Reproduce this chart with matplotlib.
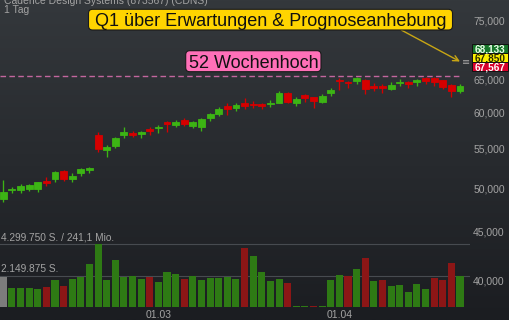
import numpy as np
import matplotlib
matplotlib.use("Agg")
import matplotlib.pyplot as plt
from matplotlib.patches import Rectangle, FancyBboxPatch
from matplotlib.ticker import FixedLocator, NullLocator

plt.rcParams['font.family'] = ['Liberation Sans', 'DejaVu Sans']

# Daily OHLC
opens = [48730, 49720, 49800, 49920, 49920, 50850, 51060, 52060, 51140, 51840,
         52180, 56820, 54800, 55340, 56820, 57140, 56920, 57610, 57750, 58590,
         58210, 58880, 58110, 57970, 59160, 59780, 60940, 60610, 61340, 61310,
         61240, 61240, 61430, 62840, 61340, 62580, 62240, 61580, 62890, 64940,
         64620, 64730, 64890, 64000, 63960, 63490, 64380, 64530, 64620, 65160,
         65250, 64840, 64110, 63190]
highs = [50980, 50120, 50490, 50520, 50770, 51350, 52100, 52260, 51810, 52510,
         52640, 57200, 55470, 56590, 57890, 57380, 57380, 57930, 58210, 58740,
         58920, 59160, 58780, 59160, 59880, 60750, 61430, 61390, 62090, 61680,
         61430, 61830, 63140, 63080, 62240, 62730, 62330, 62690, 63600, 65160,
         64730, 65410, 65000, 64380, 64220, 64530, 65050, 64780, 65050, 65310,
         65410, 64890, 64220, 64270]
lows = [48380, 49400, 49360, 49640, 49560, 50280, 50770, 50850, 50690, 51470,
        51810, 54500, 53920, 55110, 56370, 56590, 56370, 56820, 57140, 57240,
        57890, 58070, 57750, 57420, 58820, 59490, 59630, 60260, 60500, 60610,
        60460, 60840, 61340, 61340, 60940, 61580, 60700, 61430, 62480, 63340,
        63600, 64270, 62730, 63190, 62890, 63340, 64000, 63700, 64000, 64270,
        64000, 63490, 62240, 62840]
closes = [49480, 49920, 50280, 50360, 50690, 50610, 51970, 51140, 51430, 52390,
          52440, 54960, 55240, 56370, 57200, 56820, 57200, 57380, 57930, 58350,
          58680, 58390, 58590, 59020, 59730, 60460, 60550, 61130, 60940, 61090,
          60940, 61390, 62840, 61580, 61940, 62090, 61730, 62480, 63300, 64680,
          64460, 65160, 63490, 63700, 63650, 64110, 64530, 64320, 64890, 64730,
          64620, 63800, 63240, 64000]

# Daily volume (shares) and its colour class
volumes = [2060000, 1350000, 1350000, 1350000, 1280000, 1400000, 1850000, 1460000,
           1950000, 2080000, 2930000, 4299750, 1850000, 3250000, 2080000, 2130000,
           1950000, 2080000, 1720000, 2430000, 2240000, 1900000, 2150000, 1830000,
           1970000, 1990000, 2080000, 1950000, 4030000, 3530000, 2380000, 1810000,
           1920000, 1650000, 110000, 110000, 90000, 70000, 1880000, 2200000,
           2150000, 2610000, 3340000, 1810000, 1880000, 1440000, 1490000, 1030000,
           1600000, 1260000, 1990000, 1850000, 3020000, 2110000]
vol_trend = ['n', 'u', 'u', 'u', 'u', 'd', 'u', 'd', 'u', 'u',
             'u', 'u', 'u', 'u', 'u', 'u', 'u', 'd', 'u', 'u',
             'u', 'd', 'u', 'u', 'u', 'u', 'u', 'u', 'd', 'u',
             'u', 'u', 'u', 'd', 'u', 'u', 'd', 'u', 'u', 'u',
             'd', 'u', 'd', 'u', 'd', 'u', 'u', 'u', 'u', 'u',
             'd', 'd', 'd', 'u']

date_ticks = [18, 39]
date_labels = ['01.03', '01.04']
price_ticks = [40000, 45000, 50000, 55000, 60000, 65000, 70000, 75000]

high_52w = 65520
quote_bid, quote_last, quote_ask = 68133, 67850, 67567
turnover_text = '241,1 Mio.'

W, H = 510, 320
fig = plt.figure(figsize=(W / 100, H / 100), dpi=100)

# background gradient
bg = fig.add_axes([0, 0, 1, 1], zorder=-10)
top = np.array([52, 56, 60]) / 255
bot = np.array([27, 29, 33]) / 255
t = np.linspace(0, 1, 256)[:, None, None]
grad = top * (1 - t) + bot * t
grad = np.repeat(grad, 2, axis=1)
bg.imshow(grad, aspect='auto', extent=[0, 1, 0, 1])
bg.set_axis_off()

n = len(opens)
x = np.arange(n)
px_per_bar = 8.617
x0 = -3.3 / px_per_bar
plot_w = 470
x1 = x0 + plot_w / px_per_bar

grey = '#a3a3a3'
up_c, dn_c = '#3cb414', '#d60000'
vol_up, vol_dn, vol_n = '#2e7a14', '#8c1616', '#7c7c7c'

# volume panel
vol_h = 77.3
ax_v = fig.add_axes([0, 12.7 / H, plot_w / W, vol_h / H], facecolor='none')
vmax = max(volumes)
ax_v.set_ylim(0, vmax * vol_h / 63.0)
ax_v.set_xlim(x0, x1)
vcols = [{'u': vol_up, 'd': vol_dn, 'n': vol_n}[k] for k in vol_trend]
ax_v.bar(x, volumes, width=0.82, color=vcols, zorder=2)
for lvl in (vmax, vmax / 2):
    ax_v.axhline(lvl, color='#474b50', lw=0.8, zorder=1)
fmt_de = lambda v: f"{int(round(v)):,}".replace(',', '.')
ax_v.annotate(f"{fmt_de(vmax)} S. / {turnover_text}", xy=(0, vmax),
              xycoords=('axes fraction', 'data'), xytext=(1, 1.0),
              textcoords='offset points', va='bottom', ha='left',
              fontsize=7.3, color=grey)
ax_v.annotate(f"{fmt_de(vmax / 2)} S.", xy=(0, vmax / 2),
              xycoords=('axes fraction', 'data'), xytext=(1, 1.0),
              textcoords='offset points', va='bottom', ha='left',
              fontsize=7.3, color=grey)
ax_v.xaxis.set_major_locator(FixedLocator(date_ticks))
ax_v.set_xticklabels(date_labels)
ax_v.tick_params(axis='x', length=0, pad=2.2, labelsize=7.5, labelcolor=grey)
ax_v.set_yticks([])
for s in ax_v.spines.values():
    s.set_visible(False)

# price panel (log scale)
ax = fig.add_axes([0, 0, plot_w / W, 1], facecolor='none')
ax.set_yscale('log')
ax.set_ylim(36357, 78716)
ax.set_xlim(x0, x1)
o, h, l, c = map(np.array, (opens, highs, lows, closes))
cols = np.where(c >= o, up_c, dn_c)
ax.vlines(x, l, h, colors=cols, lw=0.95, zorder=3)
ax.bar(x, np.abs(c - o), bottom=np.minimum(o, c), width=0.8, color=cols,
       edgecolor=cols, linewidth=0.6, zorder=4)
ax.hlines(high_52w, x0, n - 0.9, colors='#c3669e', lw=1.0,
          linestyles=(0, (4, 2.4)), zorder=2)

ax.yaxis.tick_right()
ax.yaxis.set_major_locator(FixedLocator(price_ticks))
ax.yaxis.set_minor_locator(NullLocator())
ax.set_yticklabels([f"{v:,}" for v in price_ticks])
ax.tick_params(axis='y', length=0, pad=2.3, labelsize=7.5, labelcolor=grey)
ax.set_xticks([])
for s in ax.spines.values():
    s.set_visible(False)

# arrow towards the current quote
ax.annotate('', xy=(n - 1, quote_last), xytext=(46.2, 73200),
            arrowprops=dict(arrowstyle='->', color='#c8a614', lw=1.0,
                            mutation_scale=10, shrinkA=0, shrinkB=0), zorder=6)

fig.canvas.draw()
qy = ax.transData.transform((0, quote_last))[1]
fig.text(466 / W, qy / H, '\u2261', ha='center', va='center', fontsize=7,
         color=grey, family=['DejaVu Sans'])

# quote boxes: bid / last / ask
cy = qy + 4
bh = 9.0
bx0, bw = 472, 36
boxes = [(quote_bid, '#17752a', '#e8ffe8', cy + bh),
         (quote_last, '#fbef00', '#2a2a00', cy),
         (quote_ask, '#d8002c', '#ffffff', cy - bh)]
for val, fc, tc, yc in boxes:
    fig.patches.append(Rectangle((bx0 / W, (yc - bh / 2) / H), bw / W, bh / H,
                                 transform=fig.transFigure, facecolor=fc,
                                 edgecolor='#111111', lw=0.7, zorder=5))
    fig.text((bx0 + bw / 2) / W, yc / H, f"{val:,}", ha='center',
             va='center_baseline', fontsize=7.2, fontweight='bold', color=tc,
             zorder=6)

# headline texts
fig.text(4 / W, 1 - 1.5 / H, 'Cadence Design Systems (873567) (CDNS)',
         ha='left', va='center', fontsize=7.5, color=grey)
fig.text(4 / W, 1 - 10 / H, '1 Tag', ha='left', va='center', fontsize=7.5,
         color=grey)


def label_box(text, left, top_, right, bottom, fc):
    """Rounded label box given in pixel coordinates from the top-left."""
    patch = FancyBboxPatch((left / W, 1 - bottom / H), (right - left) / W,
                           (bottom - top_) / H,
                           boxstyle='round,pad=0,rounding_size=0.008',
                           transform=fig.transFigure, facecolor=fc,
                           edgecolor='#1a1a1a', lw=0.8, zorder=7,
                           mutation_aspect=W / H)
    fig.patches.append(patch)
    fig.text((left + right) / 2 / W, 1 - (top_ + bottom) / 2 / H, text,
             ha='center', va='center_baseline', fontsize=13, color='#111111',
             zorder=8)


label_box('Q1 über Erwartungen & Prognoseanhebung', 88.5, 9.3, 452.5, 30.0,
          '#ffd400')
label_box('52 Wochenhoch', 185.7, 50.7, 321.0, 71.7, '#ff70b8')

fig.savefig('out.png', dpi=100)
